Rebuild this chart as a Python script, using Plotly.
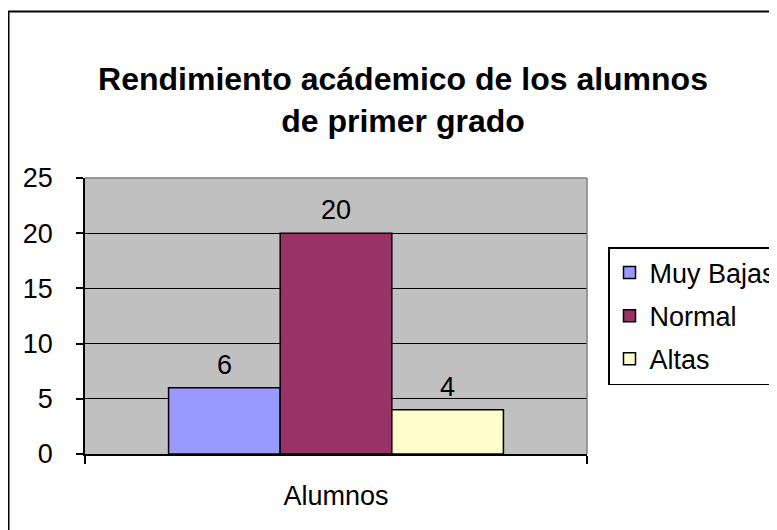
import plotly.graph_objects as go

# ---- data ----
categories = ["Alumnos"]
series_names = ["Muy Bajas", "Normal", "Altas"]
series_values = [[6], [20], [4]]
series_colors = ["#9999FF", "#993366", "#FFFFCC"]
y_tick_values = [0, 5, 10, 15, 20, 25]
title_text = "Rendimiento acádemico de los alumnos<br>de primer grado"

# ---- layout constants ----
FONT = "Arial, 'Liberation Sans', sans-serif"
FS = 27
W, H = 777, 530
OFF = 8  # page offset of the figure (default body margin)
ML, MR, MT, MB = 77, 198, 170, 84
BARGAP = 0.333
plot_w = W - ML - MR
plot_h = H - MT - MB
n = len(series_names)
bar_px = plot_w * (1 - BARGAP) / n


def px_x(p):
    """page x pixel -> paper x"""
    return (p - OFF - ML) / plot_w


def px_y(p):
    """page y pixel -> paper y"""
    return (H - MB - (p - OFF)) / plot_h


fig = go.Figure()
for i, (name, vals, col) in enumerate(zip(series_names, series_values, series_colors)):
    fig.add_trace(go.Bar(
        x=categories, y=vals, name=name, legendgroup=name,
        marker=dict(color=col, line=dict(color="black", width=1.5)),
    ))
    for c, v in zip(categories, vals):
        fig.add_annotation(
            x=c, y=v, xref="x", yref="y", text=str(v), showarrow=False,
            xanchor="center", yanchor="bottom", yshift=6,
            xshift=(i - (n - 1) / 2) * bar_px,
            font=dict(family=FONT, size=FS, color="black"),
        )

shapes = [
    # outer chart border (extends past the right/bottom edge)
    dict(type="rect", xref="paper", yref="paper",
         x0=px_x(OFF + 0.5), x1=px_x(W + 60), y0=px_y(H + 60), y1=px_y(11.5),
         line=dict(color="black", width=2), fillcolor="rgba(0,0,0,0)", layer="above"),
    # gray top and right border of the plot area
    dict(type="line", xref="paper", yref="paper", x0=0, x1=1, y0=1, y1=1,
         line=dict(color="#808080", width=1.5), layer="above"),
    dict(type="line", xref="paper", yref="paper", x0=1, x1=1, y0=0, y1=1,
         line=dict(color="#808080", width=1.5), layer="above"),
]

fig.update_layout(
    width=W, height=H,
    margin=dict(l=ML, r=MR, t=MT, b=MB, autoexpand=False),
    paper_bgcolor="white", plot_bgcolor="#C0C0C0",
    barmode="group", bargap=BARGAP, bargroupgap=0,
    font=dict(family=FONT, size=FS, color="black"),
    title=dict(text="<b>" + title_text + "</b>", x=(403 - OFF) / W, xanchor="center",
               y=1 - 82 / H, yanchor="middle", xref="container", yref="container",
               font=dict(family=FONT, size=32, color="black")),
    showlegend=True,
    legend=dict(x=px_x(608), y=px_y(247), xanchor="left", yanchor="top",
                bordercolor="black", borderwidth=1.5, bgcolor="white",
                font=dict(family=FONT, size=FS, color="black"),
                tracegroupgap=5, traceorder="grouped"),
    shapes=shapes,
    xaxis=dict(type="category", showline=True, linecolor="black", linewidth=1.5,
               ticks="outside", tickson="boundaries", ticklen=8, tickcolor="black",
               tickwidth=1.5, showgrid=False, ticklabelstandoff=17,
               tickfont=dict(family=FONT, size=FS, color="black")),
    yaxis=dict(range=[0, 25], tickvals=y_tick_values, showline=True, linecolor="black",
               linewidth=1.5, ticks="outside", ticklen=7, tickcolor="black", tickwidth=1.5,
               showgrid=True, gridcolor="black", gridwidth=1.2, zeroline=False,
               ticklabelstandoff=18,
               tickfont=dict(family=FONT, size=FS, color="black")),
)

fig.write_html("out.html")
